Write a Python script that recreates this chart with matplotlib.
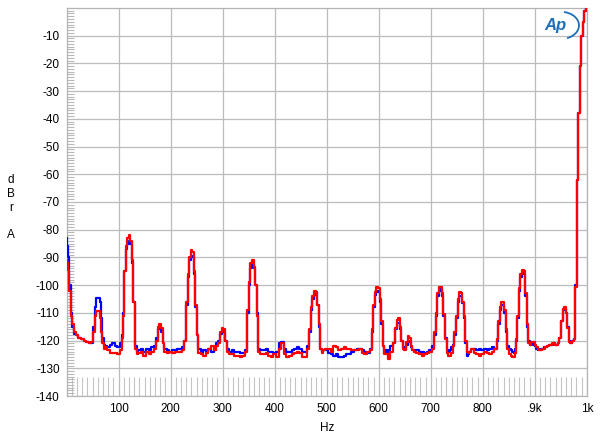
import matplotlib
matplotlib.use("Agg")
import matplotlib.pyplot as plt
from matplotlib.patches import Arc
from matplotlib.ticker import MultipleLocator

plt.rcParams['font.family'] = ['Liberation Sans', 'DejaVu Sans']

freq = [0, 2, 4, 7, 10, 12, 15, 20, 25, 30, 35, 40, 45, 50, 53, 55, 58, 63, 66, 68, 70, 72,
        75, 80, 85, 90, 95, 100, 105, 108, 110, 112, 115, 118, 121, 124, 127, 130, 133, 136,
        140, 145, 150, 155, 160, 165, 170, 174, 177, 180, 183, 186, 190, 195, 200, 205, 210,
        215, 220, 225, 228, 231, 234, 237, 240, 243, 246, 249, 252, 255, 260, 265, 270, 275,
        280, 285, 290, 294, 297, 300, 303, 306, 309, 315, 320, 325, 330, 335, 340, 345, 349,
        352, 355, 358, 361, 364, 367, 370, 375, 380, 385, 390, 395, 400, 405, 410, 415, 420,
        425, 430, 435, 440, 445, 450, 455, 460, 465, 468, 471, 474, 477, 480, 483, 486, 489,
        492, 495, 500, 505, 510, 515, 520, 525, 530, 535, 540, 545, 550, 555, 560, 565, 570,
        575, 580, 585, 588, 591, 594, 597, 600, 603, 606, 609, 612, 615, 620, 625, 630, 633,
        636, 639, 642, 645, 648, 651, 654, 657, 660, 663, 666, 670, 675, 680, 685, 690, 695,
        700, 705, 708, 711, 714, 717, 720, 723, 726, 729, 732, 735, 738, 741, 744, 747, 750,
        753, 756, 759, 762, 765, 768, 771, 774, 775, 780, 785, 790, 795, 800, 805, 810, 815,
        820, 825, 828, 831, 834, 837, 840, 843, 846, 849, 852, 855, 858, 861, 864, 865, 868,
        871, 874, 877, 880, 883, 886, 889, 892, 895, 898, 901, 904, 907, 910, 913, 916, 919,
        922, 925, 928, 931, 934, 937, 940, 943, 946, 949, 952, 955, 958, 961, 964, 967, 970,
        973, 976, 979, 982, 985, 988, 991, 994, 997, 1000]

blue = [-83, -86, -90, -100, -110, -115, -117.5, -118, -119, -119.5, -120, -120.5, -121, -121,
        -115, -108, -104.5, -104.5, -106, -112, -119, -121.5,
        -122, -122.5, -121.5, -121, -122, -122.5, -121, -118, -110, -95, -87, -85, -84, -85,
        -92, -106, -122, -124,
        -123.5, -123, -124, -123, -123.5, -122.5, -122, -119, -116, -115, -117, -121, -123,
        -123.5, -124, -123.5, -123.5,
        -123, -123, -122.5, -120, -107, -97, -91, -89.5, -90, -96, -108, -118, -123, -124.5,
        -123.5, -124, -123,
        -124, -123.5, -121, -120, -117.5, -116.5, -117, -120, -123, -124, -123.5, -124, -124,
        -124.5, -124.5, -123.5, -110,
        -100, -94, -92.5, -94, -100, -110, -123, -123.5, -123.5, -123, -124, -124, -124.5,
        -124, -121, -120.5, -123,
        -124, -124, -123.5, -123, -122.5, -123, -124, -124, -122, -117, -109, -105, -103.5,
        -103, -107, -115, -123,
        -124, -123.5, -123.5, -124.5, -125, -125.5, -125, -126, -126, -125.5, -125, -125,
        -124, -123.5, -123, -123, -123.5,
        -124, -124.5, -123, -117, -108, -103.5, -102, -102.5, -106, -114, -122, -124.5,
        -123.5, -124, -122, -121, -116,
        -113.5, -113.5, -116, -120, -122.5, -123, -121.5, -120, -120.5, -122.5, -123.5,
        -123.5, -123.5, -124, -124, -124.5, -124,
        -123.5, -122, -118, -111, -104, -102, -101.5, -104, -111, -119, -123.5, -124, -123.5,
        -122.5, -121.5, -118, -112,
        -106, -104, -104, -106.5, -112, -121, -125.5, -125, -124, -123, -123, -123.5, -123,
        -123.5, -123, -123.5, -123,
        -122.5, -123, -120, -114, -109, -107, -107, -110, -117, -122, -123, -123.5, -124,
        -124.5, -123, -120, -112,
        -102, -97, -95.5, -96, -104, -115, -120, -121.5, -121, -121.5, -122, -123, -123.5,
        -123.5, -123, -123, -122.5,
        -122.5, -122, -121.5, -121.5, -121.5, -121, -121.5, -121.5, -121, -119, -113, -109,
        -108.5, -110, -115, -120, -121,
        -120, -119.5, -100, -62, -38, -21, -10, -5, -1, 0]

red = [-91, -92, -94.5, -102, -111, -114, -117, -118, -119, -119.5, -120, -120.5, -121, -120.5,
       -117, -111, -109.5, -109.5, -112, -117, -121, -123,
       -122.5, -123.5, -124.5, -124.5, -124.5, -125, -123.5, -119, -111, -95, -86, -83, -82,
       -84, -91, -106, -123, -125,
       -124.5, -124, -125.5, -124, -125, -124, -123, -120, -115, -114, -115.5, -121, -124,
       -124.5, -124, -124.5, -124,
       -124, -124, -123.5, -120, -106, -96, -90, -87.5, -88, -95, -107, -118, -124.5, -125,
       -125.5, -124.5, -123,
       -122, -123.5, -122, -121, -117, -115.5, -116, -120, -124, -125, -125, -125.5, -125.5,
       -126, -125.5, -124, -109,
       -99, -92, -91, -93.5, -100, -111, -124, -125, -125, -124.5, -125.5, -126, -125, -126,
       -123, -121, -125,
       -126, -125.5, -125, -124.5, -124, -124.5, -126, -126, -123, -116, -108, -104, -102,
       -102.5, -107, -114, -123,
       -124.5, -123.5, -123, -123, -124, -122, -122.5, -123.5, -123, -122.5, -123, -123,
       -123.5, -123.5, -123.5, -123, -124.5,
       -125, -124, -123.5, -116, -107, -102.5, -100.5, -101, -105, -113, -122, -125, -125,
       -126.5, -124, -121, -115.5,
       -112.5, -112, -115, -120, -123, -123.5, -120.5, -118.5, -119, -122, -123.5, -124,
       -124.5, -125, -125.5, -125, -124.5,
       -124, -123, -117, -110, -103, -100.5, -100.5, -103, -110.5, -119.5, -124.5, -125.5,
       -125.5, -124.5, -122, -117, -111,
       -105, -102.5, -103, -106, -111, -120, -124, -124.5, -124, -123, -124.5, -125, -125.5,
       -125, -124, -124.5, -125,
       -124, -123, -119.5, -113, -108, -106, -106, -109, -116, -123, -125, -125.5, -126,
       -126, -124.5, -119.5, -111,
       -101, -96, -94.5, -95, -103, -114, -121, -121.5, -120.5, -120.5, -121.5, -122.5, -123,
       -123.5, -123.5, -123, -123,
       -122.5, -122, -121.5, -121.5, -121, -121, -121.5, -121.5, -121, -119, -113, -108.5,
       -108, -110, -115.5, -120.5, -121,
       -120, -119.5, -100.5, -62, -38, -21, -10, -5, -1, 0]

xtick_vals = [100, 200, 300, 400, 500, 600, 700, 800, 900, 1000]
xtick_labels = ['100', '200', '300', '400', '500', '600', '700', '800', '.9k', '1k']
ytick_vals = [-10, -20, -30, -40, -50, -60, -70, -80, -90, -100, -110, -120, -130, -140]

fig = plt.figure(figsize=(6.0, 4.4), dpi=100)
ax = fig.add_axes([0.111, 0.1, 0.867, 0.882])

ax.plot(freq, blue, color='#0000ff', lw=1.6, drawstyle='steps-mid', zorder=3)
ax.plot(freq, red, color='#ff0000', lw=1.6, drawstyle='steps-mid', zorder=4)

ax.set_xlim(0, 1000)
ax.set_ylim(-140, 0)
ax.set_xticks(xtick_vals)
ax.set_xticklabels(xtick_labels)
ax.set_yticks(ytick_vals)
ax.set_yticklabels([str(v) for v in ytick_vals])
ax.xaxis.set_minor_locator(MultipleLocator(10))
ax.yaxis.set_minor_locator(MultipleLocator(1))

ax.grid(True, which='major', color='#bcbcbc', lw=0.9)
ax.tick_params(which='major', length=0, labelsize=8.5, pad=5, colors='black')
ax.tick_params(axis='x', which='minor', direction='in', length=14, width=0.8, color='#c4c4c4',
               top=False)
ax.tick_params(axis='y', which='minor', direction='in', length=5, width=0.8, color='#b8b8b8',
               right=False)
for s in ax.spines.values():
    s.set_color('#b4b4b4')
    s.set_linewidth(0.9)

ax.set_xlabel('Hz', fontsize=8.5, labelpad=5)
fig.text(0.018, 0.528, 'd\nB\nr\n\nA', ha='center', va='center', fontsize=8.5,
         linespacing=1.2)

# Audio Precision logo
ax.text(0.94, 0.955, 'Ap', transform=ax.transAxes, color='#1d6fb8', fontsize=12,
        fontstyle='italic', fontweight='bold', ha='center', va='center', zorder=5)
arc = Arc((0.95, 0.955), 0.07, 0.07, angle=0, theta1=-70, theta2=80,
          transform=ax.transAxes, color='#1d6fb8', lw=1.3, zorder=5)
ax.add_patch(arc)

fig.savefig('out.png', dpi=100)
